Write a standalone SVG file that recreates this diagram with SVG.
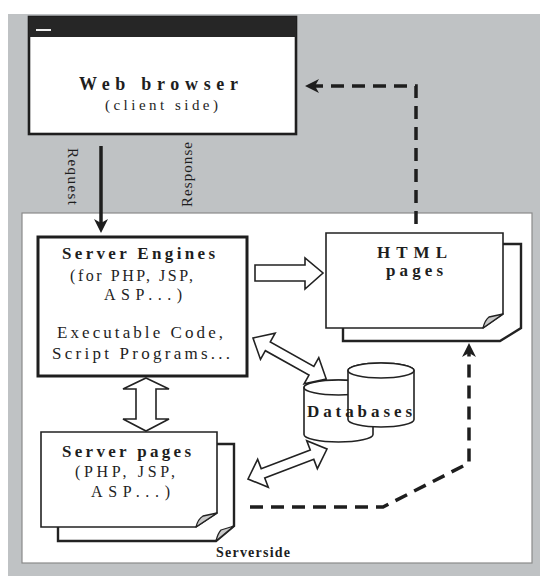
<svg xmlns="http://www.w3.org/2000/svg" width="540" height="576" viewBox="0 0 540 576">
  <defs>
    <style>
      .t{font-family:"Liberation Serif","Times New Roman",serif;fill:#1e1e1e}
      .b{font-weight:bold}
      .blk{fill:#fff;stroke:#222;stroke-width:1.6;stroke-linejoin:miter}
      .dash{fill:none;stroke:#1e1e1e;stroke-width:3.5;stroke-dasharray:13 8}
      .front{fill:#fff;stroke:#222;stroke-width:1.6}
      .back{fill:#fff;stroke:#222;stroke-width:2.4}
      .fold{fill:#c8c8c8;stroke:#222;stroke-width:1.3;stroke-linejoin:round}
      .cyl{fill:#fff;stroke:#222;stroke-width:1.6}
    </style>
    <marker id="head" viewBox="0 0 14 14" refX="4" refY="7" markerWidth="14" markerHeight="14" markerUnits="userSpaceOnUse" orient="auto">
      <path d="M0,0 L14,7 L0,14 L4,7 Z" fill="#1e1e1e"/>
    </marker>
  </defs>

  <!-- page background -->
  <rect x="0" y="0" width="540" height="576" fill="#fff"/>
  <rect x="8" y="14" width="532" height="562" fill="#bfc2c4"/>

  <!-- server side area -->
  <g id="server-side">
    <rect x="22" y="213" width="510" height="350" fill="#fff" stroke="#8a8a8a" stroke-width="1.2"/>
    <text class="t b" x="216" y="557" font-size="14" textLength="74" lengthAdjust="spacing">Serverside</text>
  </g>

  <!-- client: web browser window -->
  <g id="web-browser">
    <rect x="29" y="17" width="267" height="117" fill="#fff" stroke="#1e1e1e" stroke-width="2.6"/>
    <rect x="29" y="17" width="267" height="20" fill="#262626"/>
    <rect x="36" y="29" width="15" height="2" fill="#eee"/>
    <text class="t b" x="79" y="90" font-size="18" textLength="159" lengthAdjust="spacing">Web browser</text>
    <text class="t" x="105" y="110" font-size="15" textLength="113" lengthAdjust="spacing">(client side)</text>
  </g>

  <!-- server engines -->
  <g id="server-engines">
    <rect x="38" y="237" width="209" height="139" fill="#fff" stroke="#1e1e1e" stroke-width="3"/>
    <text class="t b" x="62" y="259" font-size="17" textLength="153" lengthAdjust="spacing">Server Engines</text>
    <text class="t" x="70" y="281" font-size="16" textLength="123" lengthAdjust="spacing">(for PHP, JSP,</text>
    <text class="t" x="104" y="300" font-size="16" textLength="78" lengthAdjust="spacing">ASP...)</text>
    <text class="t" x="57" y="338" font-size="17" textLength="166" lengthAdjust="spacing">Executable Code,</text>
    <text class="t" x="52" y="359" font-size="17" textLength="178" lengthAdjust="spacing">Script Programs...</text>
  </g>

  <!-- html pages (stacked sheets) -->
  <g id="html-pages">
    <path class="back" d="M343,244 H521 V328 L500,341 H343 Z"/>
    <path class="front" d="M326,233 H503 V314 L483,328 H326 Z"/>
    <path class="fold" d="M483,328 Q485,320 489,317 L503,314 Z"/>
    <text class="t b" x="377" y="258" font-size="17" textLength="70" lengthAdjust="spacing">HTML</text>
    <text class="t b" x="386" y="276" font-size="17" textLength="57" lengthAdjust="spacing">pages</text>
  </g>

  <!-- server pages (stacked sheets) -->
  <g id="server-pages">
    <path class="back" d="M58,444 H234 V526 L216,541 H58 Z"/>
    <path class="fold" d="M216,541 Q218,533 221,530 L234,526 Z"/>
    <path class="front" d="M41,432 H217 V513 L196,527 H41 Z"/>
    <path class="fold" d="M196,527 Q198,519 203,516 L217,513 Z"/>
    <text class="t b" x="62" y="457" font-size="17" textLength="129" lengthAdjust="spacing">Server pages</text>
    <text class="t" x="75" y="477" font-size="16" textLength="100" lengthAdjust="spacing">(PHP, JSP,</text>
    <text class="t" x="91" y="497" font-size="16" textLength="79" lengthAdjust="spacing">ASP...)</text>
  </g>

  <!-- databases: two cylinders -->
  <g id="databases">
    <path class="cyl" d="M304,387.5 V434.5 A34.5,7.5 0 0 0 373,434.5 V387.5 A34.5,7.5 0 0 0 304,387.5 Z"/>
    <ellipse class="cyl" cx="338.5" cy="387.5" rx="34.5" ry="7.5"/>
    <path class="cyl" d="M348,370.5 V419.5 A33,7.5 0 0 0 414,419.5 V370.5 A33,7.5 0 0 0 348,370.5 Z"/>
    <ellipse class="cyl" cx="381" cy="370.5" rx="33" ry="7.5"/>
    <text class="t b" x="307" y="417" font-size="17" textLength="105" lengthAdjust="spacing">Databases</text>
  </g>

  <!-- connectors -->
  <g id="connectors">
    <!-- request -->
    <path d="M101,146 V223" fill="none" stroke="#1e1e1e" stroke-width="3.5" marker-end="url(#head)"/>
    <text class="t" font-size="15" transform="translate(68,148) rotate(90)" textLength="57" lengthAdjust="spacing">Request</text>
    <text class="t" font-size="15" transform="translate(192,207) rotate(-90)" textLength="65" lengthAdjust="spacing">Response</text>

    <!-- response paths (dashed) -->
    <path class="dash" d="M416,224 V86 H315" marker-end="url(#head)"/>
    <path class="dash" d="M250,507 H383 L469,463 V353" marker-end="url(#head)"/>

    <!-- engines to html pages -->
    <polygon class="blk" points="255,265 305,265 305,258 323,273 305,289 305,281 255,281"/>
    <!-- engines to server pages -->
    <polygon class="blk" points="146,378 169,389 156,389 156,419 169,419 146,431 123,419 136,419 136,389 123,389"/>
    <!-- engines to databases -->
    <polygon class="blk" transform="translate(253,338) rotate(29.3)" points="0,0 17,-15 17,-5 67,-5 67,-15 84,0 67,15 67,5 17,5 17,15"/>
    <!-- server pages to databases -->
    <polygon class="blk" transform="translate(248,479) rotate(-20.8)" points="0,0 16,-15 16,-5 68.5,-5 68.5,-15 84.5,0 68.5,15 68.5,5 16,5 16,15"/>
  </g>
</svg>
